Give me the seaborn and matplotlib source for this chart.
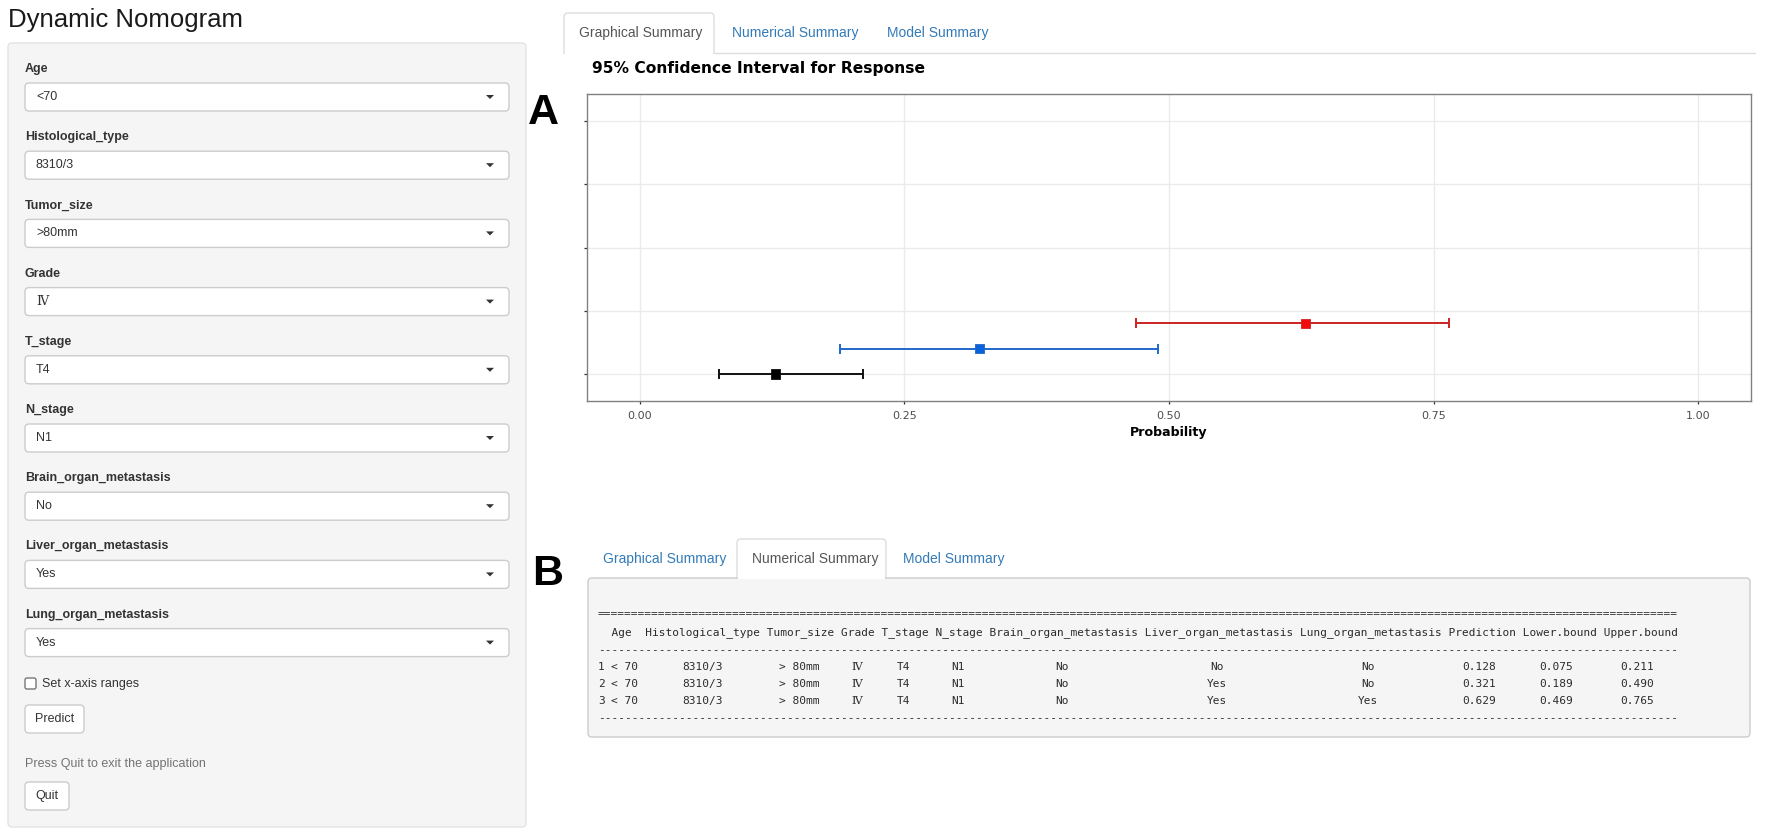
import numpy as np
import pandas as pd
import matplotlib
matplotlib.use("Agg")
import matplotlib.pyplot as plt
from matplotlib.patches import FancyBboxPatch, Polygon, Rectangle
import seaborn as sns

# side panel inputs
field_names = ["Age", "Histological_type", "Tumor_size", "Grade", "T_stage",
               "N_stage", "Brain_organ_metastasis", "Liver_organ_metastasis",
               "Lung_organ_metastasis"]
field_values = ["<70", "8310/3", ">80mm", "\u2163", "T4", "N1", "No", "Yes", "Yes"]
tab_names = ["Graphical Summary", "Numerical Summary", "Model Summary"]

# predictions (numerical summary)
row_ids = [1, 2, 3]
age = ["< 70", "< 70", "< 70"]
histological_type = ["8310/3", "8310/3", "8310/3"]
tumor_size = ["> 80mm", "> 80mm", "> 80mm"]
grade = ["\u2163", "\u2163", "\u2163"]
t_stage = ["T4", "T4", "T4"]
n_stage = ["N1", "N1", "N1"]
brain_met = ["No", "No", "No"]
liver_met = ["No", "Yes", "Yes"]
lung_met = ["No", "No", "Yes"]
prediction = [0.128, 0.321, 0.629]
lower_bound = [0.075, 0.189, 0.469]
upper_bound = [0.211, 0.490, 0.765]

point_colors = {"1": "#000000", "2": "#0b61d9", "3": "#f20d0d"}
line_colors = {"1": "#111111", "2": "#1f68cc", "3": "#cc2424"}

sns.set_theme(style="white")
plt.rcParams["font.family"] = ["Liberation Sans", "DejaVu Sans"]

W, H = 1772, 836
fig = plt.figure(figsize=(W / 100, H / 100), dpi=100)
fig.patch.set_facecolor("white")

# overlay in pixel coordinates for the app chrome
ui = fig.add_axes([0, 0, 1, 1])
ui.set_xlim(0, W)
ui.set_ylim(H, 0)
ui.axis("off")


def box(x0, y0, x1, y1, face="white", edge="#cccccc", r=4, lw=1.0, z=1):
    ui.add_patch(FancyBboxPatch((x0, y0), x1 - x0, y1 - y0,
                                boxstyle=f"round,pad=0,rounding_size={r}",
                                fc=face, ec=edge, lw=lw, zorder=z))


ui.text(8, 20, "Dynamic Nomogram", fontsize=18.5, color="#1a1a1a", va="center")

# sidebar
box(8, 43, 526, 827, face="#f5f5f5", edge="#e3e3e3")
step = 68.2
for i, (name, val) in enumerate(zip(field_names, field_values)):
    ly = 69 + step * i
    ui.text(25, ly, name, fontsize=9, fontweight="bold", color="#333333", va="center")
    top = 83 + step * i
    box(25, top, 509, top + 28, z=2)
    fam = ["DejaVu Serif"] if name == "Grade" else ["Liberation Sans", "DejaVu Sans"]
    ui.text(36, top + 14, val, fontsize=9, color="#333333", va="center", family=fam, zorder=3)
    cy = top + 14
    ui.add_patch(Polygon([(486, cy - 2), (494, cy - 2), (490, cy + 2)], closed=True,
                         fc="#333333", ec="none", zorder=3))

box(25, 678, 36, 689, face="white", edge="#767676", r=2, z=2)
ui.text(42, 683.5, "Set x-axis ranges", fontsize=9, color="#333333", va="center")
box(25, 705, 84, 733, z=2)
ui.text(54.5, 719, "Predict", fontsize=9, color="#333333", va="center", ha="center", zorder=3)
ui.text(25, 764, "Press Quit to exit the application", fontsize=9, color="#737373", va="center")
box(25, 782, 69, 810, z=2)
ui.text(47, 796, "Quit", fontsize=9, color="#333333", va="center", ha="center", zorder=3)

# panel labels
big = dict(fontsize=31, fontweight="bold", color="black", va="center", ha="center",
           family=["Liberation Sans Narrow", "Liberation Sans"], fontstretch="condensed")
ui.text(543, 113, "A", **big)
ui.text(548, 574, "B", **big)

# tabs for panel A
ui.plot([714, 1755], [53, 53], color="#dddddd", lw=1, zorder=1)
box(564, 13, 714, 60, face="white", edge="#dddddd", r=4, z=1)
ui.add_patch(Rectangle((563, 53.5), 152, 8, fc="white", ec="none", zorder=2))
for x, name, active in zip([579, 732, 887], tab_names, [True, False, False]):
    ui.text(x, 33, name, fontsize=10, color="#555555" if active else "#337ab7", va="center")

# tabs for panel B + table box
box(737, 539, 886, 590, face="white", edge="#dddddd", r=4, z=1)
box(588, 578, 1750, 737, face="#f5f5f5", edge="#cccccc", r=4, z=2)
ui.add_patch(Rectangle((737.6, 575), 147.8, 3.5, fc="white", ec="none", zorder=3))
for x, name, active in zip([603, 752, 903], tab_names, [False, True, False]):
    ui.text(x, 559, name, fontsize=10, color="#555555" if active else "#337ab7", va="center")

# numerical summary as monospaced table
col_names = ["", "Age", "Histological_type", "Tumor_size", "Grade", "T_stage", "N_stage",
             "Brain_organ_metastasis", "Liver_organ_metastasis", "Lung_organ_metastasis",
             "Prediction", "Lower.bound", "Upper.bound"]
col_cells = [[str(r) for r in row_ids], age, histological_type, tumor_size, grade, t_stage,
             n_stage, brain_met, liver_met, lung_met,
             [f"{v:.3f}" for v in prediction], [f"{v:.3f}" for v in lower_bound],
             [f"{v:.3f}" for v in upper_bound]]
widths = [max(len(n), max(len(c) for c in cells)) for n, cells in zip(col_names, col_cells)]
total = sum(widths) + len(widths) - 1
header = " ".join(n.center(w) for n, w in zip(col_names, widths))

tx0, cw = 598, 6.725
mono_pt = cw / (0.602 * 100 / 72)
mono = dict(fontsize=mono_pt, color="#2b2b2b", va="center", zorder=4)
ui.text(tx0, 614, "=" * total, family="DejaVu Sans Mono", **mono)
ui.text(tx0, 633, header, family="DejaVu Sans Mono", **mono)
ui.text(tx0, 650, "-" * total, family="DejaVu Sans Mono", **mono)
ui.text(tx0, 718, "-" * total, family="DejaVu Sans Mono", **mono)
offset = 0
for j, (w, cells) in enumerate(zip(widths, col_cells)):
    for k, cell in enumerate(cells):
        y = 667 + 17 * k
        if j == 0:
            ui.text(tx0 + offset * cw, y, cell, family="DejaVu Sans Mono", ha="left", **mono)
        else:
            fam = ["DejaVu Serif"] if cell == "\u2163" else ["DejaVu Sans Mono", "DejaVu Sans"]
            ui.text(tx0 + (offset + w / 2) * cw, y, cell, family=fam, ha="center", **mono)
    offset += w + 1

# graphical summary: 95% CI plot
df = pd.DataFrame({"row": [str(r) for r in row_ids], "pos": row_ids,
                   "Prediction": prediction, "Lower": lower_bound, "Upper": upper_bound})

ax = fig.add_axes([587 / W, 1 - 401 / H, (1751 - 587) / W, (401 - 94) / H])
ax.set_facecolor("white")
for _, r in df.iterrows():
    ax.errorbar(r["Prediction"], r["pos"],
                xerr=[[r["Prediction"] - r["Lower"]], [r["Upper"] - r["Prediction"]]],
                fmt="none", ecolor=line_colors[r["row"]], elinewidth=1.4,
                capsize=3.8, capthick=1.4, zorder=3)
sns.scatterplot(data=df, x="Prediction", y="pos", hue="row", palette=point_colors,
                marker="s", s=44, edgecolor=[line_colors[r] for r in df["row"]],
                linewidth=0.6, legend=False, ax=ax, zorder=4)

ax.set_xlim(-0.05, 1.05)
ax.set_ylim(-0.07, 12.07)
ax.set_xticks([0, 0.25, 0.5, 0.75, 1.0])
ax.set_xticklabels(["0.00", "0.25", "0.50", "0.75", "1.00"])
ax.set_yticks([1, 3.5, 6, 8.5, 11])
ax.set_yticklabels([])
ax.grid(True, color="#ebebeb", lw=1)
ax.set_axisbelow(True)
ax.tick_params(axis="both", which="major", length=2.5, width=0.9, color="#333333",
               labelsize=8, labelcolor="#4d4d4d", pad=4.5, bottom=True, left=True,
               labelfontfamily="DejaVu Sans")
for s in ax.spines.values():
    s.set_color("#808080")
    s.set_linewidth(1.0)
ax.set_ylabel("")
ax.set_xlabel("Probability", fontsize=9.1, fontweight="bold", color="black",
              family="DejaVu Sans", labelpad=4)
ax.set_title("95% Confidence Interval for Response", loc="left", fontsize=11.2,
             fontweight="bold", family="DejaVu Sans", color="black", pad=15, x=0.004)

fig.savefig("out.png", dpi=100)
